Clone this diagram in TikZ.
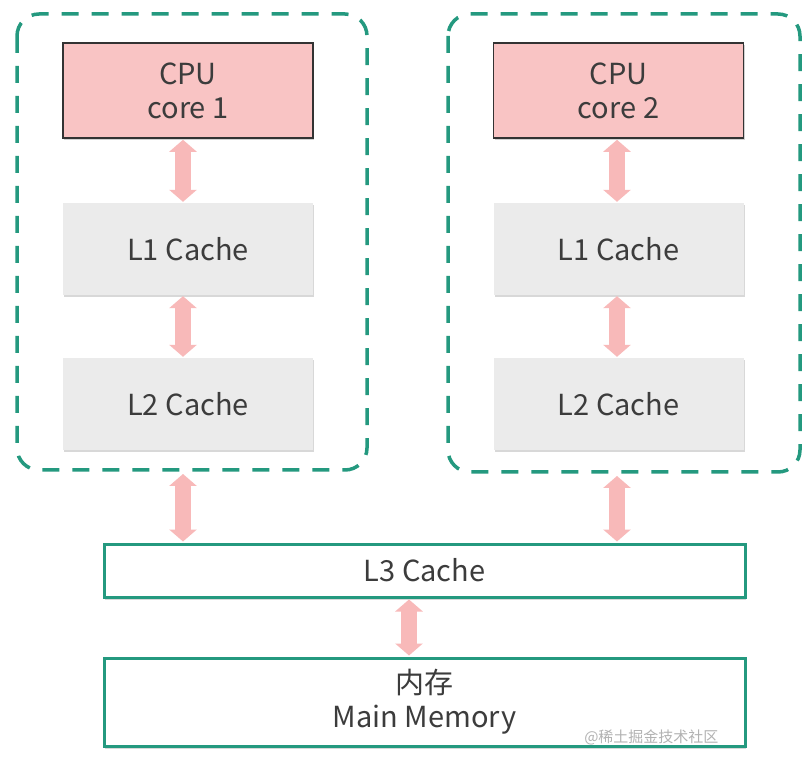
\documentclass[tikz,border=0pt]{standalone}
\usepackage{fontspec}
\setmainfont{Noto Sans CJK SC}
\usetikzlibrary{arrows.meta,shadows}
\definecolor{teal1}{HTML}{24997F}
\definecolor{pinkfill}{HTML}{F9C4C4}
\definecolor{arrowpink}{HTML}{F8B9B9}
\definecolor{grayfill}{HTML}{EBEBEB}
\definecolor{txt}{HTML}{3C3C3C}
\begin{document}
\begin{tikzpicture}[x=1pt,y=-1pt,
  every node/.style={text=txt,font=\fontsize{29}{35}\selectfont},
  groupbox/.style={draw=teal1,line width=3.5pt,dash pattern=on 17pt off 13pt,rounded corners=22pt},
  cpubox/.style={draw=black!80,line width=1.6pt,fill=pinkfill,minimum width=250pt,minimum height=95pt,align=center,inner sep=0pt,
     drop shadow={shadow xshift=1pt,shadow yshift=-2pt,opacity=0.35}},
  cachebox/.style={fill=grayfill,minimum width=250pt,minimum height=92pt,inner sep=0pt,
     drop shadow={shadow xshift=1pt,shadow yshift=-2.5pt,opacity=0.3}},
  membox/.style={draw=teal1,line width=3pt,fill=white,minimum width=641pt,align=center,inner sep=0pt,
     drop shadow={shadow xshift=1pt,shadow yshift=-2.5pt,opacity=0.3}},
  dblarrow/.style={draw=arrowpink,line width=16pt,{Triangle[width=27pt,length=12pt]}-{Triangle[width=27pt,length=12pt]},shorten <=1pt,shorten >=1pt}
]
\useasboundingbox (0,0) rectangle (804,767);
\fill[white] (0,0) rectangle (804,767);
% group boxes
\draw[groupbox] (17,14) rectangle (367,470);
\draw[groupbox] (448,14) rectangle (800,472);
% core 1
\node[cpubox] (cpu1) at (188,90.5) {CPU\\[-1pt]core 1};
\node[cachebox] (l1a) at (188,249) {L1 Cache};
\node[cachebox] (l2a) at (188,404) {L2 Cache};
% core 2
\node[cpubox] (cpu2) at (618.5,90.5) {CPU\\[-1pt]core 2};
\node[cachebox] (l1b) at (618.5,249) {L1 Cache};
\node[cachebox] (l2b) at (618.5,404) {L2 Cache};
% shared
\node[membox,minimum height=53pt] (l3) at (424.5,570.5) {L3 Cache};
\node[membox,minimum height=88pt] (mem) at (424.5,702) {内存\\[-1pt]Main Memory};
% connectors
\coordinate (g1) at (183,473);
\coordinate (g2) at (617,475);
\draw[dblarrow] (cpu1.south -| 183,0) -- (l1a.north -| 183,0);
\draw[dblarrow] (l1a.south -| 183,0) -- (l2a.north -| 183,0);
\draw[dblarrow] (g1) -- (l3.north -| g1);
\draw[dblarrow] (cpu2.south -| 617,0) -- (l1b.north -| 617,0);
\draw[dblarrow] (l1b.south -| 617,0) -- (l2b.north -| 617,0);
\draw[dblarrow] (g2) -- (l3.north -| g2);
\draw[dblarrow] (l3.south -| 409,0) -- (mem.north -| 409,0);
% watermark
\node[text=black!30,font=\fontsize{15}{17}\selectfont,anchor=east] (wm) at (722,737) {@稀土掘金技术社区};
\end{tikzpicture}
\end{document}
